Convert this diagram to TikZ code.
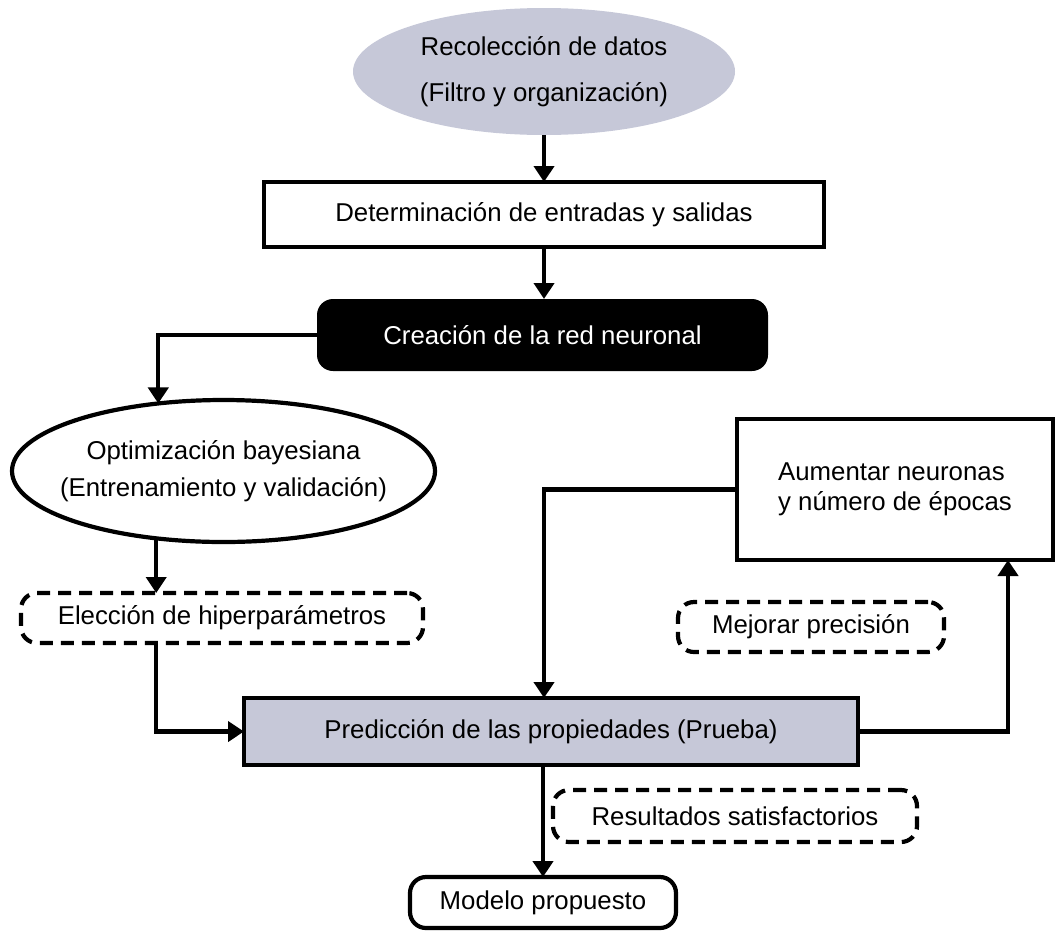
\documentclass[tikz,border=0pt]{standalone}
\usepackage{fontspec}
\setmainfont{Liberation Sans}
\usetikzlibrary{shapes.geometric,arrows.meta,calc}

\definecolor{paleblue}{HTML}{C6C8D8}

\tikzset{
  base/.style={inner sep=0pt, outer sep=0pt, align=center,
    font=\fontsize{25.8}{30}\selectfont, line width=4.2pt},
  plainbox/.style={base, draw, rectangle},
  blackbox/.style={base, rectangle, rounded corners=16pt, fill=black, text=white},
  softbox/.style={base, draw, rectangle, rounded corners=16pt},
  notebox/.style={base, draw, rectangle, rounded corners=16pt,
    dash pattern=on 13pt off 8pt},
  oval/.style={base, ellipse},
  arr/.style={line width=4.2pt, -{Triangle[width=20pt,length=16pt]}},
}
% zero-width line so the ellipse keeps its set size
\newcommand{\ovalline}[1]{\makebox[0pt]{#1}}

\begin{document}
\begin{tikzpicture}[x=1pt,y=-1pt]
\useasboundingbox (0,0) rectangle (1056,932);

% process steps
\node[oval, fill=paleblue, minimum width=382pt, minimum height=127pt,
      font=\fontsize{25.8}{46}\selectfont]
  (rec) at (544,71.5) {\ovalline{Recolección de datos}\\\ovalline{(Filtro y organización)}};
\node[plainbox, minimum width=560pt, minimum height=65pt]
  (det) at (544,214.5) {Determinación de entradas y salidas};
\node[blackbox, minimum width=451pt, minimum height=72pt]
  (crea) at (542.5,335) {Creación de la red neuronal};
\node[oval, draw, fill=white, minimum width=423pt, minimum height=142pt,
      font=\fontsize{25.8}{37}\selectfont]
  (opt) at (223.5,471) {\ovalline{Optimización bayesiana}\\\ovalline{(Entrenamiento y validación)}};
\node[notebox, minimum width=402pt, minimum height=50pt]
  (elec) at (222,618) {Elección de hiperparámetros};
\node[plainbox, align=left, minimum width=316pt, minimum height=141pt]
  (aum) at (895,489.5) {Aumentar neuronas\\y número de épocas};
\node[notebox, minimum width=266pt, minimum height=50pt]
  (mej) at (811,627) {Mejorar precisión};
\node[plainbox, fill=paleblue, minimum width=614pt, minimum height=67pt]
  (pred) at (551,731.5) {Predicción de las propiedades (Prueba)};
\node[notebox, minimum width=364pt, minimum height=52pt]
  (res) at (735,816) {Resultados satisfactorios};
\node[softbox, minimum width=266pt, minimum height=51pt]
  (mod) at (543,902.5) {Modelo propuesto};

% feedback entry points
\coordinate (aumin) at ([xshift=-45pt]aum.south east);
\coordinate (predin) at ([xshift=-7pt]pred.north);

% connectors
\draw[arr] (rec.south) -- (det.north);
\draw[arr] (det.south) -- (det.south |- crea.north);
\draw[arr] (crea.west) -| (opt.134.6);
\draw[arr] (opt.225.4) -- (opt.225.4 |- elec.north);
\draw[arr] (opt.225.4 |- elec.south) |- (pred.west);
\draw[arr] (pred.east) -| (aumin);
\draw[arr] (aum.west) -| (predin);
\draw[arr] (mod.north |- pred.south) -- (mod.north);
\end{tikzpicture}
\end{document}
